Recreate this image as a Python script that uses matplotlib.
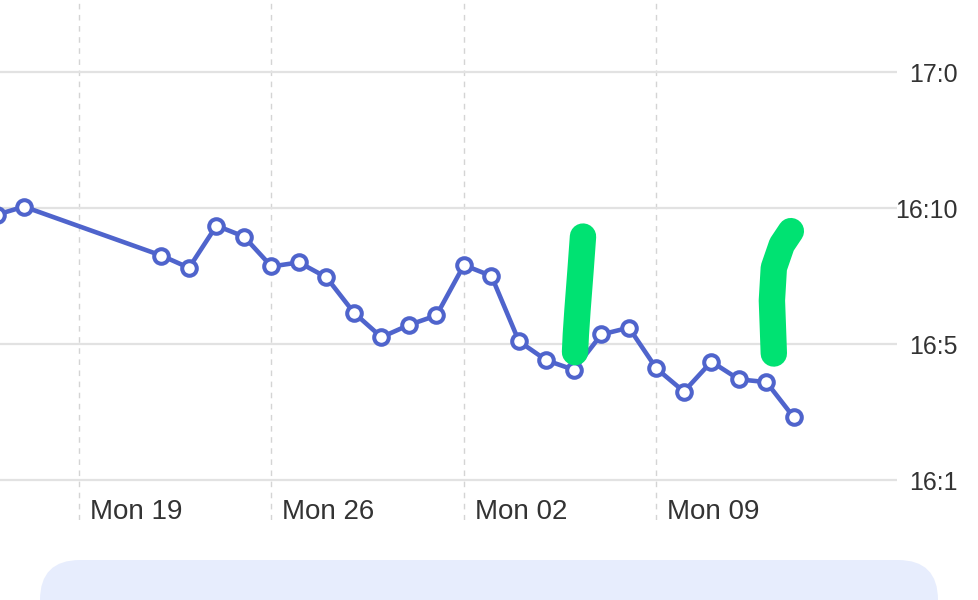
import pandas as pd
import matplotlib.pyplot as plt
from matplotlib.patches import FancyBboxPatch
from matplotlib.transforms import ScaledTranslation

plt.rcParams['font.family'] = ['Liberation Sans', 'DejaVu Sans']

# ==== Data ====
dates = ['2024-08-16', '2024-08-17',
         '2024-08-22', '2024-08-23', '2024-08-24', '2024-08-25', '2024-08-26',
         '2024-08-27', '2024-08-28', '2024-08-29', '2024-08-30', '2024-08-31',
         '2024-09-01', '2024-09-02', '2024-09-03', '2024-09-04', '2024-09-05',
         '2024-09-06', '2024-09-07', '2024-09-08', '2024-09-09', '2024-09-10',
         '2024-09-11', '2024-09-12', '2024-09-13', '2024-09-14']
values = [1.95, 2.01,
          1.65, 1.56, 1.87, 1.79, 1.57,
          1.60, 1.49, 1.23, 1.05, 1.14,
          1.21, 1.58, 1.50, 1.02, 0.88,
          0.81, 1.07, 1.12, 0.82, 0.65,
          0.87, 0.74, 0.72, 0.46]

x_ticks = ['2024-08-19', '2024-08-26', '2024-09-02', '2024-09-09']
x_labels = ['Mon 19', 'Mon 26', 'Mon 02', 'Mon 09']
y_ticks = [0, 1, 2, 3]
y_labels = ['16:1', '16:5', '16:10', '17:0']

# hand-drawn green marks (days after Mon 19, value)
stroke1_days = [18.33, 18.24, 18.13, 18.07, 18.04]
stroke1_vals = [1.79, 1.54, 1.25, 1.07, 0.94]
stroke2_days = [25.89, 25.56, 25.27, 25.20, 25.24, 25.27]
stroke2_vals = [1.83, 1.73, 1.56, 1.32, 1.10, 0.93]

dates = pd.to_datetime(dates)
base = pd.Timestamp('2024-08-19')

# ==== Plot ====
fig = plt.figure(figsize=(9.79, 6), dpi=100)
ax = fig.add_axes([0, 80 / 600, 897 / 979, 520 / 600])

ax.plot(dates, values, color='#4F64CC', linewidth=3.3, marker='o',
        markersize=10.5, markerfacecolor='white', markeredgecolor='#4F64CC',
        markeredgewidth=2.9, zorder=3)

for d, v in [(stroke1_days, stroke1_vals), (stroke2_days, stroke2_vals)]:
    sx = base + pd.to_timedelta(d, unit='D')
    ax.plot(sx, v, color='#00E272', linewidth=19, solid_capstyle='round',
            solid_joinstyle='round', zorder=4)

ax.set_xlim(base - pd.Timedelta(days=2.873), base + pd.Timedelta(days=29.75))
ax.set_ylim(-40 / 136, 480 / 136)

# grid
for t in pd.to_datetime(x_ticks):
    ax.axvline(t, color='#d4d4d4', linewidth=1, linestyle=(0, (4, 4)), zorder=1)
for t in y_ticks:
    ax.axhline(t, color='#e2e2e2', linewidth=1.6, zorder=1)

for s in ax.spines.values():
    s.set_visible(False)

ax.set_xticks(pd.to_datetime(x_ticks))
ax.set_xticklabels(x_labels, fontsize=20, color='#333333')
ax.tick_params(axis='x', length=0, pad=0)
offset = ScaledTranslation(11 / 100, 1 / 100, fig.dpi_scale_trans)
for lab in ax.get_xticklabels():
    lab.set_horizontalalignment('left')
    lab.set_verticalalignment('baseline')
    lab.set_transform(lab.get_transform() + offset)

ax.set_yticks(y_ticks)
ax.set_yticklabels(y_labels, fontsize=18, color='#333333')
ax.tick_params(axis='y', length=0, labelleft=False, labelright=True, pad=44)
for lab in ax.get_yticklabels():
    lab.set_horizontalalignment('right')

# light blue card at the bottom
card = FancyBboxPatch((0.40, -0.5), 8.98, 0.9,
                      boxstyle='round,pad=0,rounding_size=0.4',
                      transform=fig.dpi_scale_trans, facecolor='#E7EDFD',
                      edgecolor='none')
fig.patches.append(card)

plt.savefig('out.png', dpi=100)
